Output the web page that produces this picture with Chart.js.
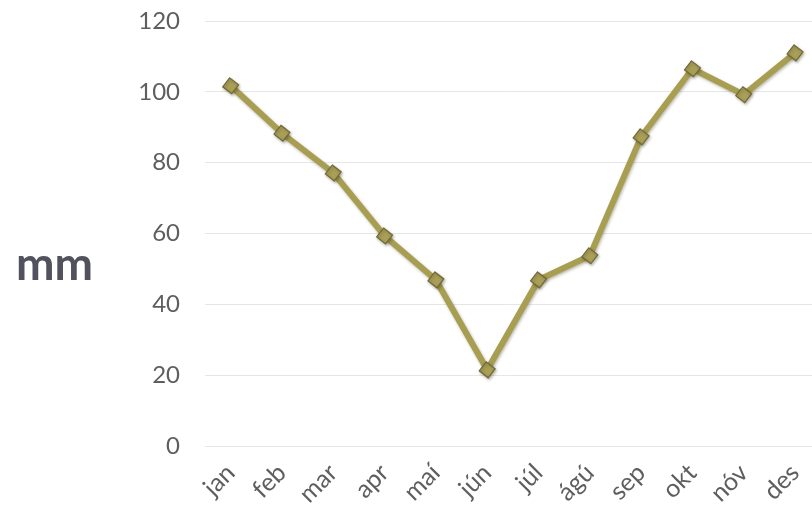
<!DOCTYPE html>
<html>
<head>
<meta charset="utf-8">
<script src="https://cdn.jsdelivr.net/npm/chart.js@4.4.0/dist/chart.umd.min.js"></script>
<style>
  html, body { margin: 0; padding: 0; background: #fff; overflow: hidden; }
  #wrap { position: relative; width: 812px; height: 516px; }
  #mm { position: absolute; left: 16px; top: 240px; font-family: Lato, sans-serif; font-weight: 700; font-size: 46px; color: #52525e; line-height: 1; }
</style>
</head>
<body>
<div id="wrap">
  <canvas id="c" width="812" height="516"></canvas>
  <div id="mm">mm</div>
</div>
<script>
const months = ['jan','feb','mar','apr','maí','jún','júl','ágú','sep','okt','nóv','des'];
const rainfall = [101.7, 88.3, 77.1, 59.3, 46.9, 21.5, 46.9, 53.7, 87.3, 106.5, 99.2, 111.0];
const yTicks = [0, 20, 40, 60, 80, 100, 120];

const shadowPlugin = {
  id: 'shadow',
  beforeDatasetsDraw(chart) {
    const ctx = chart.ctx;
    ctx.save();
    ctx.shadowColor = 'rgba(60,55,20,0.35)';
    ctx.shadowBlur = 3;
    ctx.shadowOffsetX = 1;
    ctx.shadowOffsetY = 1.5;
  },
  afterDatasetsDraw(chart) {
    chart.ctx.restore();
  }
};

new Chart(document.getElementById('c'), {
  type: 'line',
  data: {
    datasets: [{
      data: rainfall.map((v, i) => ({ x: i, y: v })),
      borderColor: '#a89e52',
      borderWidth: 6,
      pointStyle: 'rect',
      rotation: 38,
      pointRadius: 8,
      pointBackgroundColor: '#aa9f57',
      pointBorderColor: '#6f6838',
      pointBorderWidth: 1.2,
      tension: 0,
      clip: false
    }]
  },
  options: {
    responsive: false,
    animation: false,
    layout: { autoPadding: false, padding: { top: 21, right: 0, left: 0, bottom: 0 } },
    plugins: { legend: { display: false }, tooltip: { enabled: false } },
    scales: {
      x: {
        type: 'linear',
        min: -0.5,
        max: 11.33,
        afterBuildTicks(scale) {
          scale.ticks = months.map((m, i) => ({ value: i }));
        },
        afterFit(scale) {
          scale.height = 70;
          scale.paddingLeft = 0; scale.paddingRight = 0;
          scale.paddingTop = 0; scale.paddingBottom = 0;
        },
        grid: { display: false },
        border: { display: false },
        ticks: {
          callback: (v) => months[v],
          maxRotation: 45,
          minRotation: 45,
          autoSkip: false,
          padding: 4,
          color: '#5e5e5e',
          font: { family: 'Lato', size: 25 }
        }
      },
      y: {
        min: 0,
        max: 120,
        afterBuildTicks(scale) {
          scale.ticks = yTicks.map(v => ({ value: v }));
        },
        afterFit(scale) {
          scale.width = 205;
          scale.paddingLeft = 0; scale.paddingRight = 0;
          scale.paddingTop = 0; scale.paddingBottom = 0;
        },
        grid: { color: '#e6e6e6', lineWidth: 1, drawTicks: false },
        border: { display: false },
        ticks: {
          padding: 25,
          color: '#5e5e5e',
          font: { family: 'Lato', size: 24 }
        }
      }
    }
  },
  plugins: [shadowPlugin]
});
</script>
</body>
</html>
